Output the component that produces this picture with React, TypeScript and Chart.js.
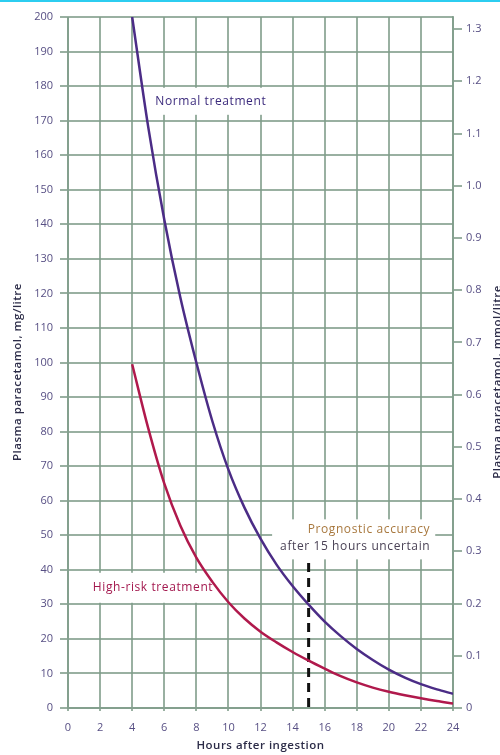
import React, { useEffect, useRef } from "react";
import { Chart, registerables } from "chart.js";

Chart.register(...registerables);

// ---- data ----
const hours = [4, 5, 6, 7, 8, 9, 10, 11, 12, 13, 14, 15, 16, 17, 18, 19, 20, 21, 22, 23, 24];
const normalValues = [200, 168.2, 141.4, 118.9, 100, 83, 69, 58, 49, 41.5, 35.3, 29.9, 25, 20.8, 17.1, 13.9, 11.1, 8.8, 6.9, 5.4, 4.1];
const highRiskValues = [99.5, 81, 65, 52.8, 43.5, 36.5, 30.6, 25.9, 22.1, 19.0, 16.2, 13.7, 11.4, 9.2, 7.4, 5.9, 4.7, 3.7, 2.8, 2.0, 1.3];
const cutoffHours = [15, 15];
const cutoffValues = [42, 0];
const rightTickValues = [0, 0.1, 0.2, 0.3, 0.4, 0.5, 0.6, 0.7, 0.8, 0.9, 1.0, 1.1, 1.2, 1.3];
const mgPerMmol = 151.16;
const yMaxMg = 200;
const xMaxHours = 24;

const FONT = "'Open Sans', 'Noto Sans', sans-serif";
const GRID = "rgba(128,156,138,0.8)";
const TICK_COLOR = "#574f84";
const LABEL_FONT = `12px ${FONT}`;
const TITLE_FONT = `600 11.5px ${FONT}`;

const setSpacing = (ctx: any, px: string) => {
  try { ctx.letterSpacing = px; } catch (e) { /* ignore */ }
};

const labelsPlugin = {
  id: "labelsPlugin",
  beforeDatasetsDraw(chart: any) {
    const { ctx, scales } = chart;
    const x = scales.x;
    const y = scales.y;
    ctx.save();
    ctx.font = LABEL_FONT;
    setSpacing(ctx, "0.6px");
    ctx.fillStyle = "#ffffff";
    const box = (cx: number, cy: number, w: number, h: number) => {
      ctx.fillRect(cx - w / 2, cy - h / 2, w, h);
    };
    let w = ctx.measureText("Normal treatment").width;
    box(x.getPixelForValue(8.9), y.getPixelForValue(175.6), w + 12, 27);
    w = ctx.measureText("High-risk treatment").width;
    box(x.getPixelForValue(5.3), y.getPixelForValue(34.8), w + 12, 30);
    const w2 = ctx.measureText("after 15 hours uncertain").width;
    const rx = x.getPixelForValue(22.58);
    ctx.fillRect(rx - w2 - 8, y.getPixelForValue(54.6), w2 + 13, 40);
    ctx.restore();
  },
  afterDatasetsDraw(chart: any) {
    const { ctx, scales } = chart;
    const x = scales.x;
    const y = scales.y;
    ctx.save();
    ctx.textBaseline = "middle";
    ctx.textAlign = "center";
    ctx.font = LABEL_FONT;
    setSpacing(ctx, "0.6px");
    ctx.fillStyle = "#3b2a7c";
    ctx.fillText("Normal treatment", x.getPixelForValue(8.9), y.getPixelForValue(175.6));
    ctx.fillStyle = "#a3184e";
    ctx.fillText("High-risk treatment", x.getPixelForValue(5.3), y.getPixelForValue(34.8));
    ctx.textAlign = "right";
    ctx.fillStyle = "#a8783e";
    ctx.fillText("Prognostic accuracy", x.getPixelForValue(22.58), y.getPixelForValue(51.6));
    ctx.fillStyle = "#4a4256";
    ctx.fillText("after 15 hours uncertain", x.getPixelForValue(22.58), y.getPixelForValue(46.8));

    // axis titles
    ctx.fillStyle = "#2c2c48";
    ctx.font = TITLE_FONT;
    setSpacing(ctx, "0.5px");
    ctx.textAlign = "center";
    ctx.fillText("Hours after ingestion", (chart.chartArea.left + chart.chartArea.right) / 2, 746);
    ctx.save();
    ctx.translate(18, 372);
    ctx.rotate(-Math.PI / 2);
    ctx.fillText("Plasma paracetamol, mg/litre", 0, 0);
    ctx.restore();
    ctx.save();
    ctx.translate(498, 382);
    ctx.rotate(-Math.PI / 2);
    ctx.fillText("Plasma paracetamol, mmol/litre", 0, 0);
    ctx.restore();
    ctx.restore();
  },
};

export default function App() {
  const ref = useRef<HTMLCanvasElement>(null);
  useEffect(() => {
    if (!ref.current) return;
    const chart = new Chart(ref.current, {
      type: "line",
      data: {
        datasets: [
          {
            label: "Normal treatment",
            data: hours.map((h, i) => ({ x: h, y: normalValues[i] })),
            borderColor: "#4b2c86",
            borderWidth: 2.5,
            pointRadius: 0,
            cubicInterpolationMode: "monotone",
            fill: false,
          },
          {
            label: "High-risk treatment",
            data: hours.map((h, i) => ({ x: h, y: highRiskValues[i] })),
            borderColor: "#b0194c",
            borderWidth: 2.5,
            pointRadius: 0,
            cubicInterpolationMode: "monotone",
            fill: false,
          },
          {
            label: "cutoff",
            data: cutoffHours.map((h, i) => ({ x: h, y: cutoffValues[i] })),
            borderColor: "#111111",
            borderWidth: 3,
            borderDash: [9, 6],
            pointRadius: 0,
            fill: false,
          },
        ],
      },
      options: {
        animation: false,
        responsive: false,
        layout: { padding: { top: 17, left: 0, right: 0, bottom: 0 } },
        plugins: { legend: { display: false }, tooltip: { enabled: false } },
        scales: {
          x: {
            type: "linear",
            min: 0,
            max: xMaxHours,
            ticks: { stepSize: 2, color: TICK_COLOR, font: { family: FONT, size: 11 }, padding: 10, maxRotation: 0 },
            grid: { color: GRID, lineWidth: 2, tickLength: 3 },
            border: { color: GRID, width: 2 },
            afterFit: (s: any) => { s.height = 47; },
          },
          y: {
            type: "linear",
            position: "left",
            min: 0,
            max: yMaxMg,
            ticks: { stepSize: 10, color: TICK_COLOR, font: { family: FONT, size: 11 }, padding: 7 },
            grid: { color: GRID, lineWidth: 2, tickLength: 8 },
            border: { color: GRID, width: 2 },
            afterFit: (s: any) => { s.width = 68; },
          },
          y1: {
            type: "linear",
            position: "right",
            min: 0,
            max: yMaxMg / mgPerMmol,
            afterBuildTicks: (s: any) => { s.ticks = rightTickValues.map((v) => ({ value: v })); },
            ticks: {
              color: TICK_COLOR,
              font: { family: FONT, size: 11 },
              padding: 4,
              callback: (v: any) => (v === 0 ? "0" : Number(v).toFixed(1)),
            },
            grid: { drawOnChartArea: false, color: GRID, lineWidth: 2, tickLength: 9 },
            border: { color: GRID, width: 2 },
            afterFit: (s: any) => { s.width = 47; },
          },
        },
      },
      plugins: [labelsPlugin],
    });
    return () => chart.destroy();
  }, []);
  return (
    <div style={{ position: "absolute", left: 0, top: 0, width: 500, height: 755, background: "#fff" }}>
      <div style={{ position: "absolute", left: 0, top: 0, width: 500, height: 2, background: "#2ccdf0" }} />
      <canvas ref={ref} width={500} height={755} style={{ display: "block" }} />
    </div>
  );
}
